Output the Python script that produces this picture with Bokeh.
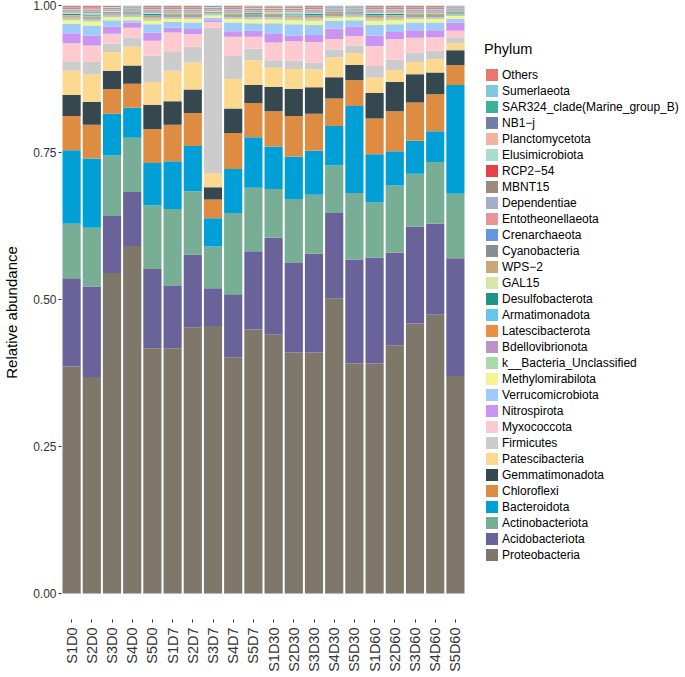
import math
from bokeh.plotting import figure
from bokeh.models import FactorRange, Range1d, FixedTicker, Legend, LegendItem, NumeralTickFormatter
from bokeh.embed import file_html
from bokeh.resources import INLINE

samples = ["S1D0", "S2D0", "S3D0", "S4D0", "S5D0", "S1D7", "S2D7", "S3D7", "S4D7", "S5D7",
           "S1D30", "S2D30", "S3D30", "S4D30", "S5D30", "S1D60", "S2D60", "S3D60", "S4D60", "S5D60"]

proteobacteria   = [.386, .368, .545, .591, .417, .417, .453, .455, .402, .449, .440, .410, .410, .502, .391, .391, .422, .459, .475, .370]
acidobacteriota  = [.150, .154, .097, .092, .135, .106, .123, .064, .107, .133, .165, .152, .168, .145, .177, .180, .158, .165, .154, .200]
actinobacteriota = [.093, .100, .103, .092, .108, .131, .108, .071, .138, .108, .083, .109, .100, .081, .113, .094, .114, .090, .105, .110]
bacteroidota     = [.125, .118, .071, .051, .072, .081, .077, .048, .075, .086, .072, .072, .075, .067, .148, .082, .058, .056, .052, .185]
chloroflexi      = [.058, .057, .042, .041, .058, .062, .056, .032, .061, .058, .060, .069, .063, .047, .044, .061, .068, .065, .063, .034]
gemmatimonadota  = [.036, .039, .031, .031, .041, .040, .040, .021, .042, .031, .042, .046, .045, .036, .026, .043, .050, .048, .037, .025]
patescibacteria  = [.041, .047, .032, .032, .039, .052, .046, .024, .050, .042, .032, .034, .030, .034, .020, .026, .020, .021, .023, .012]
firmicutes       = [.016, .021, .014, .015, .045, .033, .027, .247, .039, .020, .013, .014, .012, .013, .013, .020, .018, .016, .014, .010]
myxococcota      = [.031, .028, .017, .017, .025, .032, .021, .010, .033, .020, .030, .033, .035, .018, .016, .034, .035, .025, .023, .011]
nitrospirota     = [.017, .017, .012, .009, .014, .008, .009, .003, .009, .010, .016, .010, .012, .018, .016, .018, .012, .013, .012, .014]
verrucomicrobiota= [.016, .017, .011, .004, .014, .010, .011, .004, .015, .013, .017, .019, .017, .013, .011, .018, .013, .013, .013, .006]
methylomirabilota= [.006, .007, .005, .005, .006, .005, .006, .004, .006, .006, .006, .007, .007, .005, .005, .007, .007, .006, .006, .005]
bacteria_unclass = [.004, .004, .003, .003, .004, .003, .003, .002, .003, .004, .004, .004, .004, .003, .003, .004, .004, .003, .003, .002]
bdellovibrionota = [.002, .002, .002, .002, .002, .002, .002, .001, .002, .002, .002, .002, .002, .002, .002, .002, .002, .002, .002, .001]
latescibacterota = [.002, .002, .002, .001, .002, .002, .002, .001, .002, .002, .002, .002, .002, .002, .001, .002, .002, .002, .002, .001]
armatimonadota   = [.001, .002, .001, .001, .002, .001, .001, .001, .001, .002, .001, .002, .002, .001, .001, .002, .001, .001, .001, .001]
desulfobacterota = [.0015, .0015, .0015, .0015, .0015, .0015, .0015, .0015, .0015, .0015, .0015, .0015, .0015, .0015, .0015, .0015, .0015, .0015, .0015, .0015]
gal15            = [.002, .002, .001, .001, .002, .001, .001, .001, .001, .001, .002, .002, .002, .001, .001, .002, .002, .001, .001, .001]
wps2             = [.0008, .0008, .0008, .0008, .0008, .0008, .0008, .0008, .0008, .0008, .0008, .0008, .0008, .0008, .0008, .0008, .0008, .0008, .0008, .0008]
cyanobacteria    = [.0008, .0008, .0008, .0008, .0008, .0008, .0008, .0008, .0008, .0008, .0008, .0008, .0008, .0008, .0008, .0008, .0008, .0008, .0008, .0008]
crenarchaeota    = [.0007, .0007, .0007, .0007, .0007, .0007, .0007, .0007, .0007, .0007, .0007, .0007, .0007, .0007, .0007, .0007, .0007, .0007, .0007, .0007]
entotheonellaeota= [.0008, .0008, .0008, .0008, .0008, .0008, .0008, .0008, .0008, .0008, .0008, .0008, .0008, .0008, .0008, .0008, .0008, .0008, .0008, .0008]
dependentiae     = [.0007, .0007, .0007, .0007, .0007, .0007, .0007, .0007, .0007, .0007, .0007, .0007, .0007, .0007, .0007, .0007, .0007, .0007, .0007, .0007]
mbnt15           = [.0008, .0008, .0008, .0008, .0008, .0008, .0008, .0008, .0008, .0008, .0008, .0008, .0008, .0008, .0008, .0008, .0008, .0008, .0008, .0008]
rcp2_54          = [.0008, .0008, .0008, .0008, .0008, .0008, .0008, .0008, .0008, .0008, .0008, .0008, .0008, .0008, .0008, .0008, .0008, .0008, .0008, .0008]
elusimicrobiota  = [.0007, .0007, .0007, .0007, .0007, .0007, .0007, .0007, .0007, .0007, .0007, .0007, .0007, .0007, .0007, .0007, .0007, .0007, .0007, .0007]
planctomycetota  = [.001, .001, .001, .001, .001, .001, .001, .001, .001, .001, .001, .001, .001, .001, .001, .001, .001, .001, .001, .001]
nb1_j            = [.001, .001, .001, .001, .001, .001, .001, .001, .001, .001, .001, .001, .001, .001, .001, .001, .001, .001, .001, .001]
sar324           = [.0008, .0008, .0008, .0008, .0008, .0008, .0008, .0008, .0008, .0008, .0008, .0008, .0008, .0008, .0008, .0008, .0008, .0008, .0008, .0008]
sumerlaeota      = [.0007, .0007, .0007, .0007, .0007, .0007, .0007, .0007, .0007, .0007, .0007, .0007, .0007, .0007, .0007, .0007, .0007, .0007, .0007, .0007]
others           = [.003, .004, .001, .001, .003, .003, .003, .001, .003, .002, .002, .002, .003, .001, .001, .003, .003, .003, .003, .001]

# bottom -> top
series = [
    ("proteobacteria", "Proteobacteria", "#7E776A", proteobacteria),
    ("acidobacteriota", "Acidobacteriota", "#6A6399", acidobacteriota),
    ("actinobacteriota", "Actinobacteriota", "#77AE95", actinobacteriota),
    ("bacteroidota", "Bacteroidota", "#00A0D6", bacteroidota),
    ("chloroflexi", "Chloroflexi", "#DE8C42", chloroflexi),
    ("gemmatimonadota", "Gemmatimonadota", "#354850", gemmatimonadota),
    ("patescibacteria", "Patescibacteria", "#FDD98F", patescibacteria),
    ("firmicutes", "Firmicutes", "#CCCCCC", firmicutes),
    ("myxococcota", "Myxococcota", "#FDCBCF", myxococcota),
    ("nitrospirota", "Nitrospirota", "#C994F2", nitrospirota),
    ("verrucomicrobiota", "Verrucomicrobiota", "#9FCBFA", verrucomicrobiota),
    ("methylomirabilota", "Methylomirabilota", "#F4F494", methylomirabilota),
    ("bacteria_unclass", "k__Bacteria_Unclassified", "#A9DAA8", bacteria_unclass),
    ("bdellovibrionota", "Bdellovibrionota", "#BC94C4", bdellovibrionota),
    ("latescibacterota", "Latescibacterota", "#E88F42", latescibacterota),
    ("armatimonadota", "Armatimonadota", "#63C6EA", armatimonadota),
    ("desulfobacterota", "Desulfobacterota", "#1E9387", desulfobacterota),
    ("gal15", "GAL15", "#D6E6A4", gal15),
    ("wps2", "WPS\u22122", "#C9A57A", wps2),
    ("cyanobacteria", "Cyanobacteria", "#888E92", cyanobacteria),
    ("crenarchaeota", "Crenarchaeota", "#6495DE", crenarchaeota),
    ("entotheonellaeota", "Entotheonellaeota", "#EB939A", entotheonellaeota),
    ("dependentiae", "Dependentiae", "#A3AECB", dependentiae),
    ("mbnt15", "MBNT15", "#9E8A7A", mbnt15),
    ("rcp2_54", "RCP2\u221254", "#E0434A", rcp2_54),
    ("elusimicrobiota", "Elusimicrobiota", "#A8DCCF", elusimicrobiota),
    ("planctomycetota", "Planctomycetota", "#F2B2A0", planctomycetota),
    ("nb1_j", "NB1\u2212j", "#6F7FA8", nb1_j),
    ("sar324", "SAR324_clade(Marine_group_B)", "#3BB09A", sar324),
    ("sumerlaeota", "Sumerlaeota", "#7EC8DA", sumerlaeota),
    ("others", "Others", "#E8786B", others),
]

source = {"sample": samples}
for key, _, _, vals in series:
    source[key] = vals

p = figure(x_range=FactorRange(*samples, range_padding=0),
           y_range=Range1d(-0.0442, 1.0),
           frame_width=404, frame_height=614, output_backend="svg", toolbar_location=None,
           min_border_left=52, min_border_right=213, min_border_top=5, min_border_bottom=0,
           background_fill_color="white", border_fill_color="white")
p.outline_line_color = None
p.xgrid.visible = False
p.ygrid.visible = False

renderers = p.vbar_stack([s[0] for s in series], x="sample", width=0.9,
                         color=[s[2] for s in series], line_color=None, source=source)

font = "Liberation Sans"
p.yaxis.ticker = FixedTicker(ticks=[0, 0.25, 0.5, 0.75, 1.0])
p.yaxis.formatter = NumeralTickFormatter(format="0.00")
p.yaxis.axis_label = "Relative abundance"
p.yaxis.axis_label_text_font = font
p.yaxis.axis_label_text_font_style = "normal"
p.yaxis.axis_label_text_font_size = "15px"
p.yaxis.axis_label_text_color = "#000000"
p.yaxis.axis_label_standoff = 10
for ax in (p.xaxis[0], p.yaxis[0]):
    ax.axis_line_color = None
    ax.major_tick_line_color = "#333333"
    ax.major_tick_out = 3
    ax.major_tick_in = 0
    ax.minor_tick_line_color = None
    ax.major_label_text_font = font
    ax.major_label_text_color = "#333333"
p.yaxis.major_label_text_font_size = "12px"
p.yaxis.major_label_standoff = 2
p.xaxis.major_label_text_font_size = "14.5px"
p.xaxis.major_label_orientation = math.pi / 2
p.xaxis.major_label_standoff = 5

items = [LegendItem(label=lab, renderers=[r]) for (key, lab, col, vals), r in zip(series, renderers)]
items = items[::-1]
legend = Legend(items=items, title="Phylum", location=(19, 57),
                glyph_width=15, glyph_height=15, label_height=15, spacing=1,
                label_standoff=3, padding=0, margin=0,
                label_text_font=font, label_text_font_size="12px", label_text_color="#000000",
                title_text_font=font, title_text_font_size="14.5px", title_text_font_style="normal",
                title_text_color="#000000",
                title_standoff=10, border_line_color=None, background_fill_alpha=0)
p.add_layout(legend, "right")

open("out.html", "w").write(file_html(p, INLINE))
